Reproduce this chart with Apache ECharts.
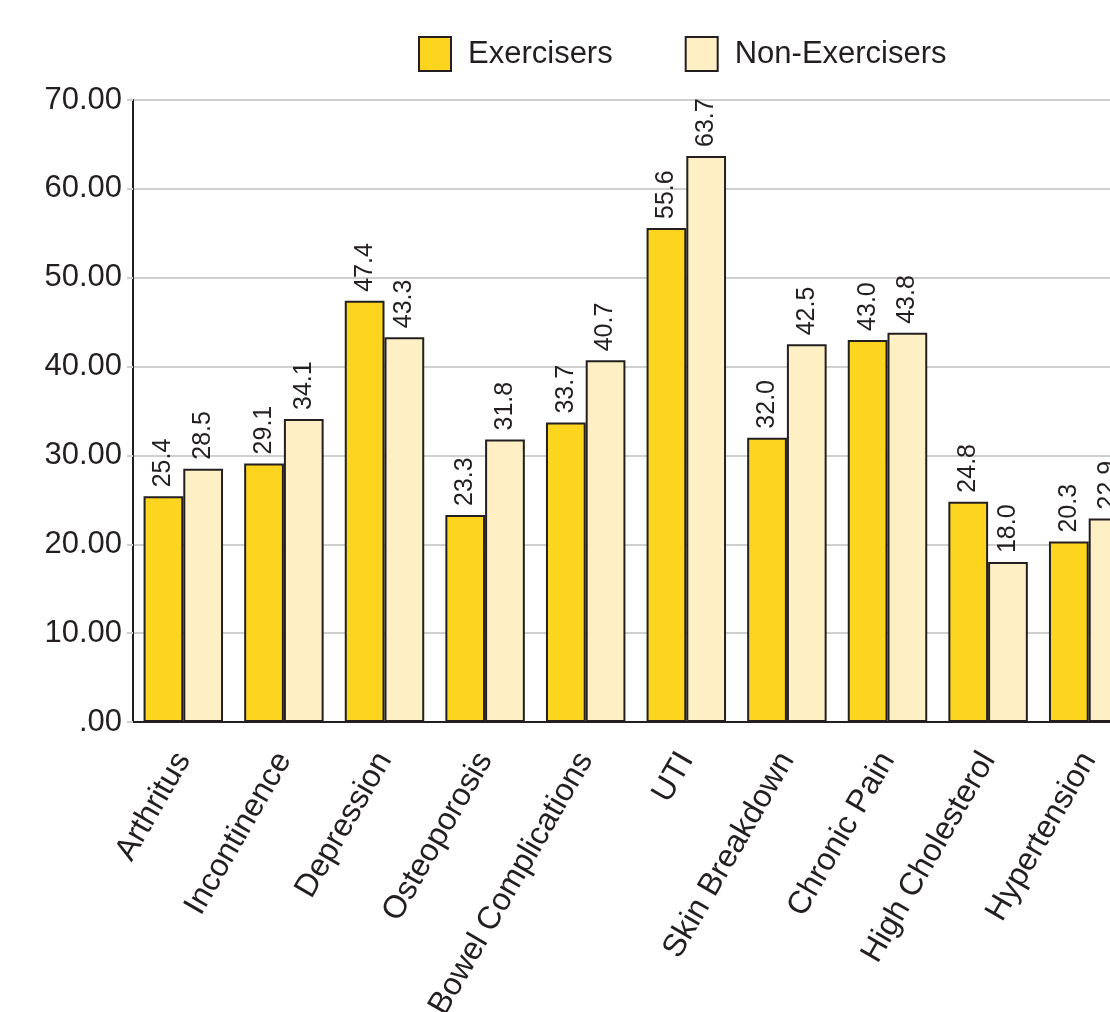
<!DOCTYPE html>
<html>
<head>
<meta charset="utf-8">
<script src="https://cdn.jsdelivr.net/npm/echarts@6/dist/echarts.min.js"></script>
<style>
  html, body { margin: 0; padding: 0; background: #fff; }
  #chart { width: 1110px; height: 1012px; }
</style>
</head>
<body>
<div id="chart"></div>
<script>
const categories = ['Arthritus', 'Incontinence', 'Depression', 'Osteoporosis', 'Bowel Complications',
  'UTI', 'Skin Breakdown', 'Chronic Pain', 'High Cholesterol', 'Hypertension']
const exercisers = [25.4, 29.1, 47.4, 23.3, 33.7, 55.6, 32.0, 43.0, 24.8, 20.3]
const nonExercisers = [28.5, 34.1, 43.3, 31.8, 40.7, 63.7, 42.5, 43.8, 18.0, 22.9]

const INK = '#231f20'
const FONT = '"Liberation Sans", Arial, sans-serif'

const barLabel = {
  show: true, position: 'top', distance: 9,
  rotate: 90, align: 'left', verticalAlign: 'middle',
  color: INK, fontSize: 25,
  formatter: (p) => p.value.toFixed(1),
}

const chart = echarts.init(document.getElementById('chart'))
chart.setOption({
  animation: false,
  backgroundColor: '#fff',
  textStyle: { fontFamily: FONT, color: INK },
  legend: {
    left: 413, top: 31, icon: 'rect',
    itemWidth: 32, itemHeight: 34, itemGap: 72,
    textStyle: { fontSize: 31, color: INK, padding: [0, 0, 0, 12] },
  },
  grid: { left: 133, top: 100, width: 1006, height: 622, outerBoundsMode: 'none' },
  xAxis: {
    type: 'category', data: categories,
    axisLine: { lineStyle: { color: INK, width: 2 } },
    axisTick: { show: false },
    axisLabel: { rotate: 60, margin: 33, fontSize: 32, color: INK, interval: 0 },
  },
  yAxis: {
    type: 'value', min: 0, max: 70, interval: 10,
    axisLine: { show: true, lineStyle: { color: INK, width: 2 } },
    axisTick: { show: true, length: 6, lineStyle: { color: '#cfcfcf', width: 2 } },
    axisLabel: {
      fontSize: 31, color: INK, margin: 11,
      formatter: (v) => (v === 0 ? '.00' : v.toFixed(2)),
    },
    splitLine: { lineStyle: { color: '#cfcfcf', width: 2 } },
  },
  series: [
    {
      name: 'Exercisers', type: 'bar', data: exercisers,
      barGap: '0%', barCategoryGap: '21%',
      itemStyle: { color: '#fdd41e', borderColor: INK, borderWidth: 2 },
      label: barLabel,
    },
    {
      name: 'Non-Exercisers', type: 'bar', data: nonExercisers,
      itemStyle: { color: '#fef0c4', borderColor: INK, borderWidth: 2 },
      label: barLabel,
    },
  ],
})
</script>
</body>
</html>
